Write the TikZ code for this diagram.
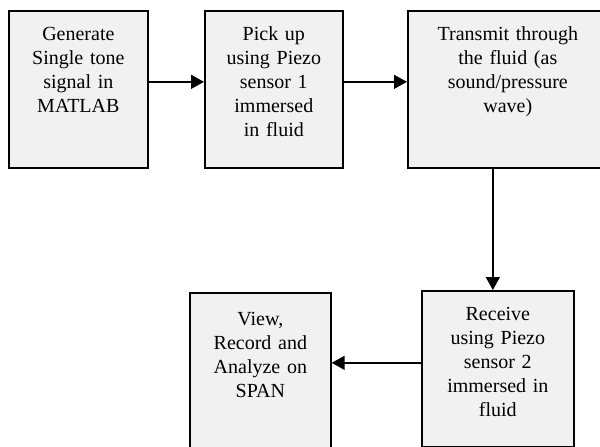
\documentclass[tikz,border=0pt]{standalone}
\usepackage{fontspec}
\setmainfont{Liberation Serif}
\usetikzlibrary{arrows.meta}
\definecolor{boxfill}{HTML}{F1F1F1}
\tikzset{
  box/.style={draw, fill=boxfill, line width=1.7pt, anchor=north west, align=center,
    inner sep=4pt, text height=26pt, font=\fontsize{20}{24}\selectfont},
  arr/.style={line width=1.5pt, -{Triangle[length=13pt,width=14pt]}}
}

\begin{document}
\begin{tikzpicture}[x=1pt,y=-1pt]
\clip (0,0) rectangle (600,447);
\fill[white] (0,0) rectangle (600,447);
\node[box, minimum width=139pt, text width=127pt, text depth=123pt] (gen) at (8,10) {Generate\\Single tone\\signal in\\MATLAB};
\node[box, minimum width=138pt, text width=126pt, text depth=123pt] (pick) at (204,10) {Pick up\\using Piezo\\sensor 1\\immersed\\in fluid};
\node[box, minimum width=200pt, text width=188pt, text depth=123pt] (trans) at (407,10) {Transmit through\\the fluid (as\\sound/pressure\\wave)};
\node[box, minimum width=152pt, text width=140pt, text depth=122pt] (recv) at (421,290) {Receive\\using Piezo\\sensor 2\\immersed in\\fluid};
\node[box, minimum width=141pt, text width=129pt, text height=29pt, text depth=123pt] (view) at (189,292) {View,\\Record and\\Analyze on\\SPAN};
\draw[arr] ([yshift=7.5pt]gen.east) -- ([yshift=7.5pt]pick.west);
\draw[arr] ([yshift=7.5pt]pick.east) -- ([yshift=7.5pt]trans.west);
\draw[arr] ([xshift=-5pt]recv.north |- trans.south) -- ([xshift=-5pt]recv.north);
\draw[arr] ([yshift=6pt]recv.west) -- ([yshift=6pt]recv.west -| view.east);
\end{tikzpicture}
\end{document}
